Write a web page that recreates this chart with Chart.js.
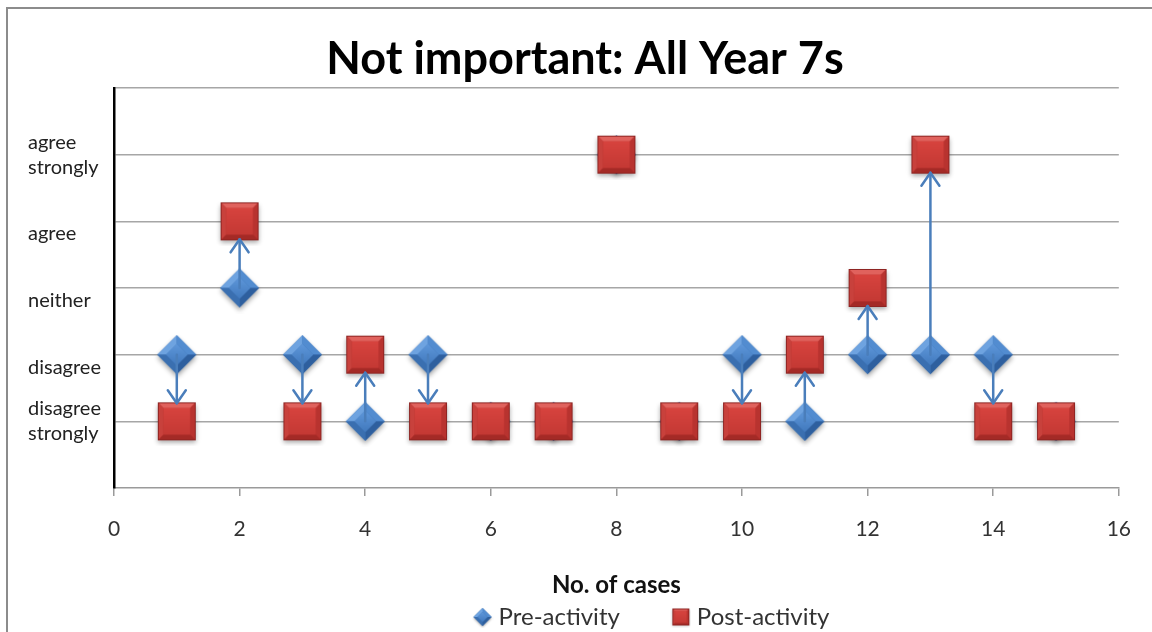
<!DOCTYPE html>
<html>
<head>
<meta charset="utf-8">
<script src="https://cdn.jsdelivr.net/npm/chart.js@4.4.1/dist/chart.umd.min.js"></script>
<style>
  html, body { margin: 0; padding: 0; background: #fff; }
  #wrap { position: relative; width: 1152px; height: 632px; overflow: hidden; }
  #frame { position: absolute; left: 6px; top: 7px; right: -4px; bottom: -4px;
           border-left: 2px solid #8c8c8c; border-top: 2px solid #8c8c8c; }
  canvas { position: absolute; left: 0; top: 0; }
</style>
</head>
<body>
<div id="wrap">
  <div id="frame"></div>
  <canvas id="c" width="1152" height="632"></canvas>
</div>
<script>
// ---- data ----
const cases = [1, 2, 3, 4, 5, 6, 7, 8, 9, 10, 11, 12, 13, 14, 15];
const preActivity  = [2, 3, 2, 1, 2, 1, 1, 5, 1, 2, 1, 2, 2, 2, 1];
const postActivity = [1, 4, 1, 2, 1, 1, 1, 5, 1, 1, 2, 3, 5, 1, 1];
const yTickLabels = ['', ['disagree', 'strongly'], ['', 'disagree'], ['', 'neither'], ['', 'agree'], ['agree', 'strongly'], ''];
const xTicks = [0, 2, 4, 6, 8, 10, 12, 14, 16];
const seriesNames = ['Pre-activity', 'Post-activity'];
const chartTitle = 'Not important: All Year 7s';
const xTitle = 'No. of cases';

const FONT = 'Lato, "Open Sans", "DejaVu Sans", sans-serif';

// ---- marker images ----
function makeSquare(half, margin) {
  const s = Math.ceil(2 * (half + margin));
  const c = document.createElement('canvas');
  c.width = s; c.height = s;
  const g = c.getContext('2d');
  const cx = s / 2, cy = s / 2;
  const x0 = cx - half, y0 = cy - half, x1 = cx + half, y1 = cy + half;
  const b = Math.max(2, half * 0.3);
  g.save();
  g.shadowColor = 'rgba(0,0,0,0.35)';
  g.shadowBlur = half * 0.25;
  g.shadowOffsetY = half * 0.15;
  g.fillStyle = '#b5312d';
  g.fillRect(x0, y0, 2 * half, 2 * half);
  g.restore();
  const tri = (pts, col) => { g.beginPath(); g.moveTo(pts[0], pts[1]); for (let i = 2; i < pts.length; i += 2) g.lineTo(pts[i], pts[i + 1]); g.closePath(); g.fillStyle = col; g.fill(); };
  tri([x0, y0, x1, y0, x1 - b, y0 + b, x0 + b, y0 + b], '#e0625d');
  tri([x0, y0, x0 + b, y0 + b, x0 + b, y1 - b, x0, y1], '#c8413c');
  tri([x1, y0, x1, y1, x1 - b, y1 - b, x1 - b, y0 + b], '#b8332f');
  tri([x0, y1, x0 + b, y1 - b, x1 - b, y1 - b, x1, y1], '#a42a26');
  const gr = g.createLinearGradient(0, y0 + b, 0, y1 - b);
  gr.addColorStop(0, '#d7433e');
  gr.addColorStop(1, '#c43934');
  g.fillStyle = gr;
  g.fillRect(x0 + b, y0 + b, 2 * (half - b), 2 * (half - b));
  g.strokeStyle = '#8e2422';
  g.lineWidth = 1;
  g.strokeRect(x0 + 0.5, y0 + 0.5, 2 * half - 1, 2 * half - 1);
  return c;
}
function makeDiamond(half, margin) {
  const s = Math.ceil(2 * (half + margin));
  const c = document.createElement('canvas');
  c.width = s; c.height = s;
  const g = c.getContext('2d');
  const cx = s / 2, cy = s / 2;
  const poly = (pts, col) => { g.beginPath(); g.moveTo(pts[0], pts[1]); for (let i = 2; i < pts.length; i += 2) g.lineTo(pts[i], pts[i + 1]); g.closePath(); g.fillStyle = col; g.fill(); };
  g.save();
  g.shadowColor = 'rgba(0,0,0,0.35)';
  g.shadowBlur = half * 0.25;
  g.shadowOffsetY = half * 0.15;
  poly([cx - half, cy, cx, cy - half, cx + half, cy, cx, cy + half], '#3c72b4');
  g.restore();
  const h2 = half * 0.55;
  poly([cx - half, cy, cx, cy - half, cx, cy - h2, cx - h2, cy], '#6ea3e0');
  poly([cx, cy - half, cx + half, cy, cx + h2, cy, cx, cy - h2], '#528cd0');
  poly([cx + half, cy, cx, cy + half, cx, cy + h2, cx + h2, cy], '#2e5f9e');
  poly([cx, cy + half, cx - half, cy, cx - h2, cy, cx, cy + h2], '#3a6fb0');
  const gr = g.createLinearGradient(0, cy - h2, 0, cy + h2);
  gr.addColorStop(0, '#5e97da');
  gr.addColorStop(1, '#4179bd');
  poly([cx - h2, cy, cx, cy - h2, cx + h2, cy, cx, cy + h2], gr);
  return c;
}
const diamondImg = makeDiamond(19.5, 6);
const squareImg = makeSquare(19, 6);
const diamondLegend = makeDiamond(9, 2);
const squareLegend = makeSquare(8.5, 2);

// ---- arrows plugin (uses chart scales) ----
const arrowPlugin = {
  id: 'arrows',
  afterDatasetsDraw(chart) {
    const xs = chart.scales.x, ys = chart.scales.y;
    const g = chart.ctx;
    g.save();
    g.strokeStyle = '#4a7ebb';
    g.lineWidth = 2.5;
    g.lineCap = 'round';
    g.lineJoin = 'round';
    for (let i = 0; i < cases.length; i++) {
      if (preActivity[i] === postActivity[i]) continue;
      const x = xs.getPixelForValue(cases[i]);
      const y1 = ys.getPixelForValue(preActivity[i]);
      const y2 = ys.getPixelForValue(postActivity[i]);
      const dir = y2 > y1 ? 1 : -1;
      const tip = y2 - dir * 18;
      g.beginPath();
      g.moveTo(x, y1);
      g.lineTo(x, tip);
      g.stroke();
      g.beginPath();
      g.moveTo(x - 9, tip - dir * 13);
      g.lineTo(x, tip);
      g.lineTo(x + 9, tip - dir * 13);
      g.stroke();
    }
    g.restore();
  }
};

// shift legend / title boxes horizontally (as in the original layout)
const boxShiftPlugin = {
  id: 'boxShift',
  afterLayout(chart) {
    if (chart.legend) { chart.legend.left += 80; chart.legend.right += 80; }
    if (chart.titleBlock) { chart.titleBlock.left += 11; chart.titleBlock.right += 11; }
  }
};

new Chart(document.getElementById('c'), {
  type: 'scatter',
  data: {
    datasets: [
      {
        label: seriesNames[0],
        data: cases.map((c, i) => ({ x: c, y: preActivity[i] })),
        pointStyle: diamondImg,
        backgroundColor: '#4f81bd',
        borderColor: '#4f81bd',
        order: 1
      },
      {
        label: seriesNames[1],
        data: cases.map((c, i) => ({ x: c, y: postActivity[i] })),
        pointStyle: squareImg,
        backgroundColor: '#c0504d',
        borderColor: '#c0504d',
        order: 0
      }
    ]
  },
  options: {
    responsive: false,
    animation: false,
    events: [],
    layout: { padding: { left: 28, right: 32, top: 0, bottom: -7 } },
    plugins: {
      title: {
        display: true,
        text: chartTitle,
        color: '#000',
        font: { family: FONT, size: 45, weight: 'bold' },
        padding: { top: 32, bottom: 2 }
      },
      legend: {
        display: true,
        position: 'bottom',
        labels: {
          usePointStyle: true,
          pointStyleWidth: 8,
          color: '#333',
          font: { family: FONT, size: 24 },
          padding: 57,
          generateLabels(chart) {
            const items = Chart.defaults.plugins.legend.labels.generateLabels(chart);
            items.sort((a, b) => a.datasetIndex - b.datasetIndex);
            items.forEach(it => { it.pointStyle = it.datasetIndex === 0 ? diamondLegend : squareLegend; });
            return items;
          }
        }
      },
      tooltip: { enabled: false }
    },
    scales: {
      x: {
        type: 'linear',
        min: 0, max: 16,
        afterBuildTicks(scale) { scale.ticks = xTicks.map(v => ({ value: v })); },
        afterFit(scale) { scale.height = 60; },
        ticks: {
          color: '#333',
          font: { family: FONT, size: 21 },
          padding: 21,
          maxRotation: 0
        },
        grid: { drawOnChartArea: false, drawTicks: true, tickLength: 8, color: '#9a9a9a', lineWidth: 1.5 },
        border: { display: true, color: '#9a9a9a', width: 1.5 },
        title: {
          display: true,
          text: xTitle,
          color: '#111',
          font: { family: FONT, size: 24, weight: 'bold' },
          padding: { top: 0, bottom: -52 }
        }
      },
      y: {
        type: 'linear',
        min: 0, max: 6,
        afterBuildTicks(scale) { scale.ticks = yTickLabels.map((_, i) => ({ value: i })); },
        afterFit(scale) { scale.width = 86; },
        ticks: {
          color: '#222',
          font: { family: FONT, size: 20, lineHeight: 1.25 },
          crossAlign: 'far',
          padding: 0,
          callback(v) { return yTickLabels[v]; }
        },
        grid: {
          drawTicks: false,
          color: ctx => ctx.tick && ctx.tick.value === 0 ? 'rgba(0,0,0,0)' : '#a6a6a6',
          lineWidth: 1.5
        },
        border: { display: true, color: '#000', width: 2.5 }
      }
    }
  },
  plugins: [arrowPlugin, boxShiftPlugin]
});
</script>
</body>
</html>
